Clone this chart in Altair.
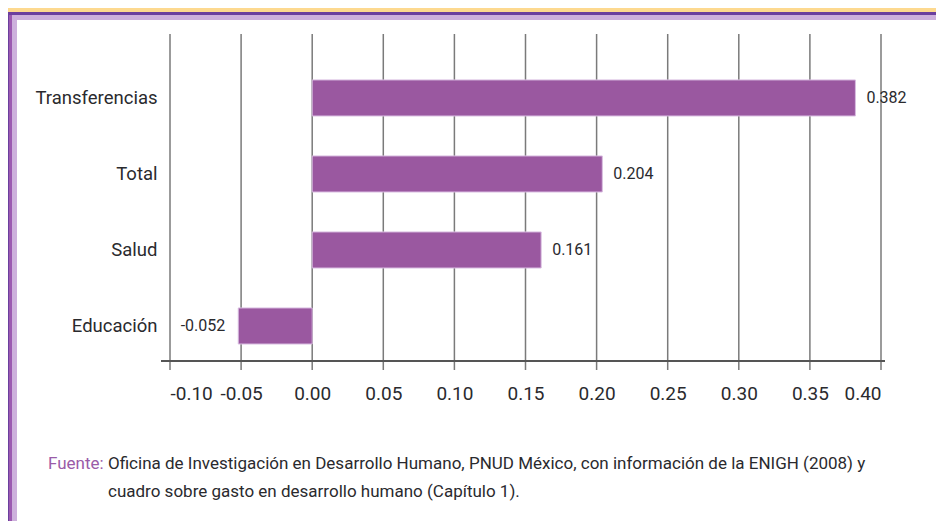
import altair as alt
import pandas as pd

categories = ["Transferencias", "Total", "Salud", "Educación"]
values = [0.382, 0.204, 0.161, -0.052]
tick_values = [-0.10, -0.05, 0.00, 0.05, 0.10, 0.15, 0.20, 0.25, 0.30, 0.35, 0.40]
source_label = "Fuente:"
source_line1 = "Oficina de Investigación en Desarrollo Humano, PNUD México, con información de la ENIGH (2008) y"
source_line2 = "cuadro sobre gasto en desarrollo humano (Capítulo 1)."

FONT = "Roboto"
TEXT = "#2a2a2e"
BAR = "#9a58a0"
W, H = 711, 327

df = pd.DataFrame({"cat": categories, "v": values})
df["lbl"] = [f"{v:.3f}" for v in values]
ticks = pd.DataFrame({"v": tick_values})
one = pd.DataFrame({"v": [0.0]})

xscale = alt.Scale(domain=[-0.10, 0.40], nice=False, zero=False)
yscale = alt.Scale(domain=categories, paddingInner=0.526, paddingOuter=0.414, align=0.73)

def frame(x1, x2, y1, y2, color):
    return alt.Chart(one).mark_rect(color=color).encode(
        x=alt.value(x1), x2=alt.value(x2), y=alt.value(y1), y2=alt.value(y2)
    )

frames = [
    frame(-162, 770, -22, 500, "#6b3f9e"),
    frame(-161, 770, -19, 500, "#9b59b0"),
    frame(-158, 770, -19, 500, "#cdb0dc"),
    frame(-153, 770, -14, 500, "#ffffff"),
]

grid = alt.Chart(ticks).mark_rule(color="#7a7a7a", strokeWidth=1.5).encode(
    x=alt.X("v:Q", scale=xscale, title=None),
    y=alt.value(0), y2=alt.value(H + 9),
)

baseline = alt.Chart(one).mark_rule(color="#555555", strokeWidth=2).encode(
    x=alt.value(-9), x2=alt.value(W + 4), y=alt.value(H)
)

bars = alt.Chart(df).mark_bar(stroke="#d8bce0", strokeWidth=1, fill=BAR).encode(
    x=alt.X("v:Q", scale=xscale, title=None,
            axis=alt.Axis(values=tick_values, grid=False, domain=False, ticks=False,
                          labelExpr="replace(format(datum.value, '.2f'), '\u2212', '-')",
                          labelFont=FONT, labelFontSize=19, labelColor=TEXT,
                          labelOverlap=False, labelPadding=23, zindex=1)),
    x2=alt.datum(0),
    y=alt.Y("cat:N", scale=yscale, sort=categories, title=None,
            axis=alt.Axis(domain=False, ticks=False, labelFont=FONT, labelFontSize=18.5,
                          labelColor=TEXT, labelPadding=13, zindex=1)),
)

pos_lbl = alt.Chart(df).transform_filter("datum.v >= 0").mark_text(
    align="left", baseline="middle", dx=11, font=FONT, fontSize=16, color=TEXT
).encode(x=alt.X("v:Q", scale=xscale), y=alt.Y("cat:N", scale=yscale, sort=categories), text="lbl:N")

neg_lbl = alt.Chart(df).transform_filter("datum.v < 0").mark_text(
    align="right", baseline="middle", dx=-13, font=FONT, fontSize=16, color=TEXT
).encode(x=alt.X("v:Q", scale=xscale), y=alt.Y("cat:N", scale=yscale, sort=categories), text="lbl:N")

def note(txt, x, y, color):
    return alt.Chart(one).mark_text(
        align="left", baseline="middle", font=FONT, fontSize=17, color=color
    ).encode(x=alt.value(x), y=alt.value(y), text=alt.value(txt))

notes = [
    note(source_label, -122, 430, "#9a5ba8"),
    note(source_line1, -62, 430, TEXT),
    note(source_line2, -62, 458, TEXT),
]

chart = alt.layer(*frames, grid, baseline, bars, pos_lbl, neg_lbl, *notes).properties(
    width=W, height=H,
    padding={"left": 162, "top": 26, "right": 55, "bottom": 160},
    autosize=alt.AutoSizeParams(type="none"),
    background="#fdd98f",
).configure_view(stroke=None)

chart.save("out.html", embed_options={"renderer": "svg", "actions": False})
